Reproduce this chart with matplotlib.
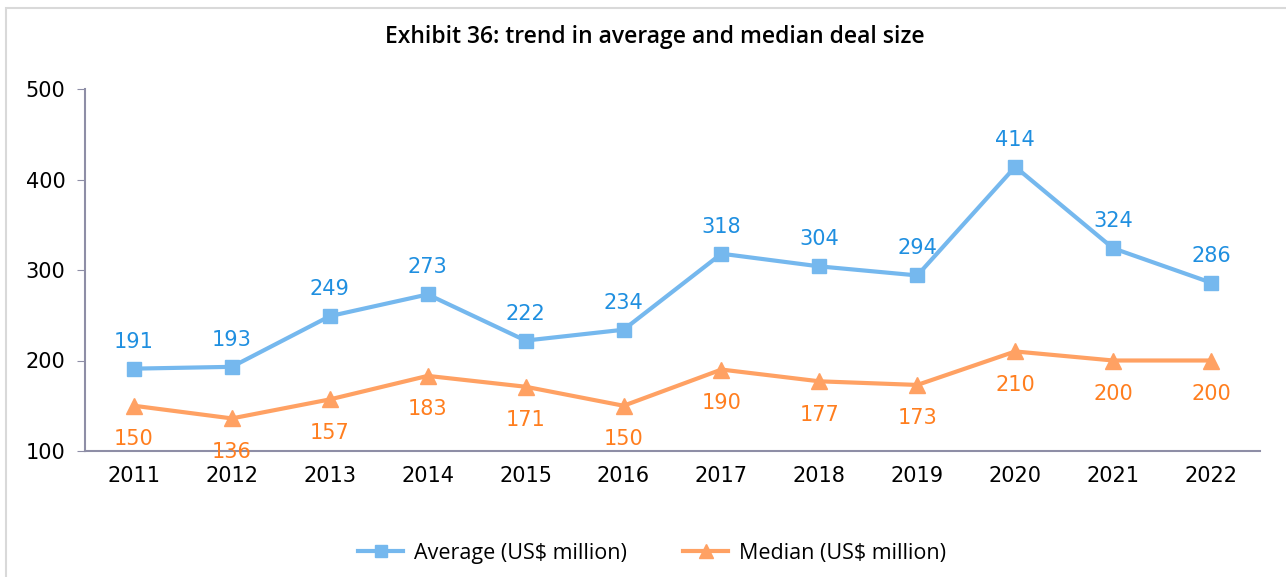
import matplotlib.pyplot as plt
from matplotlib.patches import Rectangle

years = ['2011', '2012', '2013', '2014', '2015', '2016',
         '2017', '2018', '2019', '2020', '2021', '2022']
average = [191, 193, 249, 273, 222, 234, 318, 304, 294, 414, 324, 286]
median = [150, 136, 157, 183, 171, 150, 190, 177, 173, 210, 200, 200]

avg_line = '#75B8EE'
avg_text = '#1F8FE0'
med_line = '#FFA163'
med_text = '#FF7E1F'
axis_col = '#8E8EA6'

plt.rcParams['font.family'] = 'DejaVu Sans'

fig = plt.figure(figsize=(12.86, 5.77), dpi=100)
ax = fig.add_axes([85 / 1286, 1 - 451 / 577, (1260 - 85) / 1286, (451 - 89) / 577])

x = list(range(len(years)))
l_avg, = ax.plot(x, average, color=avg_line, linewidth=3, marker='s', markersize=10,
                 label='Average (US$ million)')
l_med, = ax.plot(x, median, color=med_line, linewidth=3, marker='^', markersize=12,
                 label='Median (US$ million)')

for xi, v in zip(x, average):
    ax.annotate(str(v), (xi, v), xytext=(0, 19.5), textcoords='offset points',
                ha='center', va='center', fontsize=15, color=avg_text)
for xi, v in zip(x, median):
    ax.annotate(str(v), (xi, v), xytext=(0, -24), textcoords='offset points',
                ha='center', va='center', fontsize=15, color=med_text)

ax.set_xlim(-0.5, len(years) - 0.5)
ax.set_ylim(100, 500)
ax.set_yticks([100, 200, 300, 400, 500])
ax.set_xticks(x)
ax.set_xticklabels(years)
ax.tick_params(axis='y', labelsize=15, length=6, color=axis_col, pad=8)
ax.tick_params(axis='x', labelsize=15, length=0, pad=11)
for s in ['top', 'right']:
    ax.spines[s].set_visible(False)
for s in ['left', 'bottom']:
    ax.spines[s].set_color(axis_col)
    ax.spines[s].set_linewidth(1.5)

fig.text(655 / 1286, 1 - 37 / 577, 'Exhibit 36: trend in average and median deal size',
         ha='center', va='center', fontsize=16.5, family='Open Sans', fontweight='semibold')

fig.legend(handles=[l_avg, l_med], loc='center', bbox_to_anchor=(652 / 1286, 1 - 553 / 577),
           ncol=2, frameon=False, prop={'family': 'Open Sans', 'size': 15.5},
           handlelength=2.1, columnspacing=2.6, handletextpad=0.5, markerscale=0.8)

fig.patches.append(Rectangle((6 / 1286, -0.1), 1.1, 1 - 8 / 577 + 0.1, transform=fig.transFigure,
                             fill=False, edgecolor='#D9D9D9', linewidth=1.5))

fig.savefig('out.png', dpi=100)
